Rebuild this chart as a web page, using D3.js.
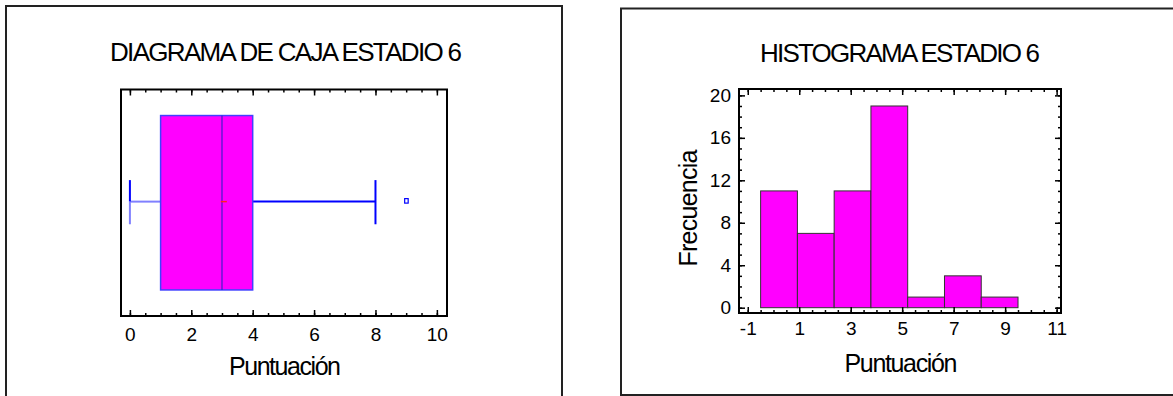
<!DOCTYPE html>
<html>
<head>
<meta charset="utf-8">
<script src="https://cdn.jsdelivr.net/npm/d3@7"></script>
<style>
  body { margin: 0; background: #fff; }
  svg { display: block; font-family: "Liberation Sans", Arial, sans-serif; }
  .axis path { display: none; }
  .axis line { stroke: #000; stroke-width: 1.5; }
  .axis text { font-size: 19px; fill: #000; font-family: "Liberation Sans", Arial, sans-serif; }
</style>
</head>
<body>
<script>
// box plot summary (Puntuación, estadio 6)
var boxStats = { min: 0, q1: 1, median: 3, q3: 4, max: 8, mean: 3.06 };
var outliers = [9];
var boxTicks = [0, 2, 4, 6, 8, 10];

// histogram bins
var binEdges = [-0.5, 0.929, 2.357, 3.786, 5.214, 6.643, 8.071, 9.5];
var binCounts = [11, 7, 11, 19, 1, 3, 1];
var histXTicks = [-1, 1, 3, 5, 7, 9, 11];
var histYTicks = [0, 4, 8, 12, 16, 20];

var W = 1173, H = 396;
var svg = d3.select("body").append("svg").attr("width", W).attr("height", H);
var plain = function (d) { return String(d); };

// panel frames
svg.append("rect").attr("x", 6).attr("y", 6).attr("width", 556).attr("height", 420)
  .attr("fill", "none").attr("stroke", "#222").attr("stroke-width", 2);
svg.append("rect").attr("x", 621).attr("y", 8.5).attr("width", 600).attr("height", 386.5)
  .attr("fill", "none").attr("stroke", "#222").attr("stroke-width", 2);

function label(txt, x, y, size, len, rot) {
  var t = svg.append("text").attr("text-anchor", "middle")
    .attr("textLength", len).attr("lengthAdjust", "spacing")
    .style("font-size", size + "px").text(txt);
  if (rot) t.attr("transform", "translate(" + x + "," + y + ") rotate(-90)");
  else t.attr("x", x).attr("y", y);
}

// ---------- box plot ----------
var bx = d3.scaleLinear().domain([-0.29, 10.33]).range([121, 447]);
var by = d3.scaleLinear().domain([0, 1]).range([316, 89.5]);

label("DIAGRAMA DE CAJA ESTADIO 6", 286, 61, 26, 352);

var g1 = svg.append("g");

// minor/major ticks, bottom and top, pointing inward
var minorBox = d3.range(0, 10.01, 0.5);
g1.append("g").attr("class", "axis").attr("transform", "translate(0," + by(0) + ")")
  .call(d3.axisBottom(bx).tickValues(minorBox).tickSizeInner(-3).tickSizeOuter(0).tickFormat(""));
g1.append("g").attr("class", "axis").attr("transform", "translate(0," + by(1) + ")")
  .call(d3.axisTop(bx).tickValues(minorBox).tickSizeInner(-3).tickSizeOuter(0).tickFormat(""));
g1.append("g").attr("class", "axis").attr("transform", "translate(0," + by(1) + ")")
  .call(d3.axisTop(bx).tickValues(boxTicks).tickSizeInner(-6).tickSizeOuter(0).tickFormat(""));
g1.append("g").attr("class", "axis").attr("transform", "translate(0," + by(0) + ")")
  .call(d3.axisBottom(bx).tickValues(boxTicks).tickSizeInner(-6).tickSizeOuter(0).tickPadding(18).tickFormat(plain))
  .selectAll("text").attr("dy", "0.35em");

g1.append("rect").attr("x", bx.range()[0]).attr("y", by(1))
  .attr("width", bx.range()[1] - bx.range()[0]).attr("height", by(0) - by(1))
  .attr("fill", "none").attr("stroke", "#000").attr("stroke-width", 2);

var cy = by(0.505);
// left whisker
g1.append("line").attr("x1", bx(boxStats.min)).attr("x2", bx(boxStats.q1))
  .attr("y1", cy).attr("y2", cy).attr("stroke", "#8080ff").attr("stroke-width", 2);
g1.append("line").attr("x1", bx(boxStats.min)).attr("x2", bx(boxStats.min))
  .attr("y1", by(0.6)).attr("y2", cy).attr("stroke", "#0000ff").attr("stroke-width", 2);
g1.append("line").attr("x1", bx(boxStats.min)).attr("x2", bx(boxStats.min))
  .attr("y1", cy).attr("y2", by(0.405)).attr("stroke", "#8080ff").attr("stroke-width", 2);
// right whisker
g1.append("line").attr("x1", bx(boxStats.q3)).attr("x2", bx(boxStats.max))
  .attr("y1", cy).attr("y2", cy).attr("stroke", "#0000ff").attr("stroke-width", 2);
g1.append("line").attr("x1", bx(boxStats.max)).attr("x2", bx(boxStats.max))
  .attr("y1", by(0.6)).attr("y2", by(0.405)).attr("stroke", "#0000ff").attr("stroke-width", 2);
// box
g1.append("rect").attr("x", bx(boxStats.q1)).attr("y", by(0.885))
  .attr("width", bx(boxStats.q3) - bx(boxStats.q1)).attr("height", by(0.115) - by(0.885))
  .attr("fill", "#ff00ff").attr("stroke", "#4040ff").attr("stroke-width", 1.5);
g1.append("line").attr("x1", bx(boxStats.median)).attr("x2", bx(boxStats.median))
  .attr("y1", by(0.885)).attr("y2", by(0.115)).attr("stroke", "#2020c0").attr("stroke-width", 1);
// mean
g1.append("line").attr("x1", bx(boxStats.mean) - 3).attr("x2", bx(boxStats.mean) + 3)
  .attr("y1", cy).attr("y2", cy).attr("stroke", "#ff2020").attr("stroke-width", 1.5);
// outliers
g1.selectAll(".out").data(outliers).enter().append("rect").attr("class", "out")
  .attr("x", function (d) { return bx(d) - 1.5; }).attr("y", cy - 3)
  .attr("width", 3.5).attr("height", 4.5)
  .attr("fill", "#fff").attr("stroke", "#0000ff").attr("stroke-width", 1.2);

label("Puntuación", 285, 375, 25, 112);

// ---------- histogram ----------
var hx = d3.scaleLinear().domain([-1.34, 11.17]).range([739, 1061]);
var hy = d3.scaleLinear().domain([-0.5, 20.6]).range([313, 89]);

label("HISTOGRAMA ESTADIO 6", 900, 62, 26, 280);

var g2 = svg.append("g");
var bins = binCounts.map(function (c, i) { return { x0: binEdges[i], x1: binEdges[i + 1], n: c }; });

g2.selectAll(".bar").data(bins).enter().append("rect").attr("class", "bar")
  .attr("x", function (d) { return hx(d.x0); })
  .attr("width", function (d) { return hx(d.x1) - hx(d.x0); })
  .attr("y", function (d) { return hy(d.n); })
  .attr("height", function (d) { return hy(0) - hy(d.n); })
  .attr("fill", "#ff00ff").attr("stroke", "#333").attr("stroke-width", 1);

var minorHX = d3.range(-1, 11.01, 0.5);
var minorHY = d3.range(0, 20.01, 1);
var x0 = hx.range()[0], x1 = hx.range()[1], y0 = hy.range()[0], y1 = hy.range()[1];

g2.append("g").attr("class", "axis").attr("transform", "translate(0," + y0 + ")")
  .call(d3.axisBottom(hx).tickValues(minorHX).tickSizeInner(-3).tickSizeOuter(0).tickFormat(""));
g2.append("g").attr("class", "axis").attr("transform", "translate(0," + y1 + ")")
  .call(d3.axisTop(hx).tickValues(minorHX).tickSizeInner(-3).tickSizeOuter(0).tickFormat(""));
g2.append("g").attr("class", "axis").attr("transform", "translate(0," + y1 + ")")
  .call(d3.axisTop(hx).tickValues(histXTicks).tickSizeInner(-6).tickSizeOuter(0).tickFormat(""));
g2.append("g").attr("class", "axis").attr("transform", "translate(0," + y0 + ")")
  .call(d3.axisBottom(hx).tickValues(histXTicks).tickSizeInner(-6).tickSizeOuter(0).tickPadding(15).tickFormat(plain))
  .selectAll("text").attr("dy", "0.35em");

g2.append("g").attr("class", "axis").attr("transform", "translate(" + x0 + ",0)")
  .call(d3.axisLeft(hy).tickValues(minorHY).tickSizeInner(-3).tickSizeOuter(0).tickFormat(""));
g2.append("g").attr("class", "axis").attr("transform", "translate(" + x1 + ",0)")
  .call(d3.axisRight(hy).tickValues(minorHY).tickSizeInner(-3).tickSizeOuter(0).tickFormat(""));
g2.append("g").attr("class", "axis").attr("transform", "translate(" + x1 + ",0)")
  .call(d3.axisRight(hy).tickValues(histYTicks).tickSizeInner(-6).tickSizeOuter(0).tickFormat(""));
g2.append("g").attr("class", "axis").attr("transform", "translate(" + x0 + ",0)")
  .call(d3.axisLeft(hy).tickValues(histYTicks).tickSizeInner(-6).tickSizeOuter(0).tickFormat(plain))
  .selectAll("text").attr("x", -8);

g2.append("rect").attr("x", x0).attr("y", y1).attr("width", x1 - x0).attr("height", y0 - y1)
  .attr("fill", "none").attr("stroke", "#000").attr("stroke-width", 2);

label("Puntuación", 901, 372, 25, 113);
label("Frecuencia", 697, 208, 25, 117, true);
</script>
</body>
</html>
